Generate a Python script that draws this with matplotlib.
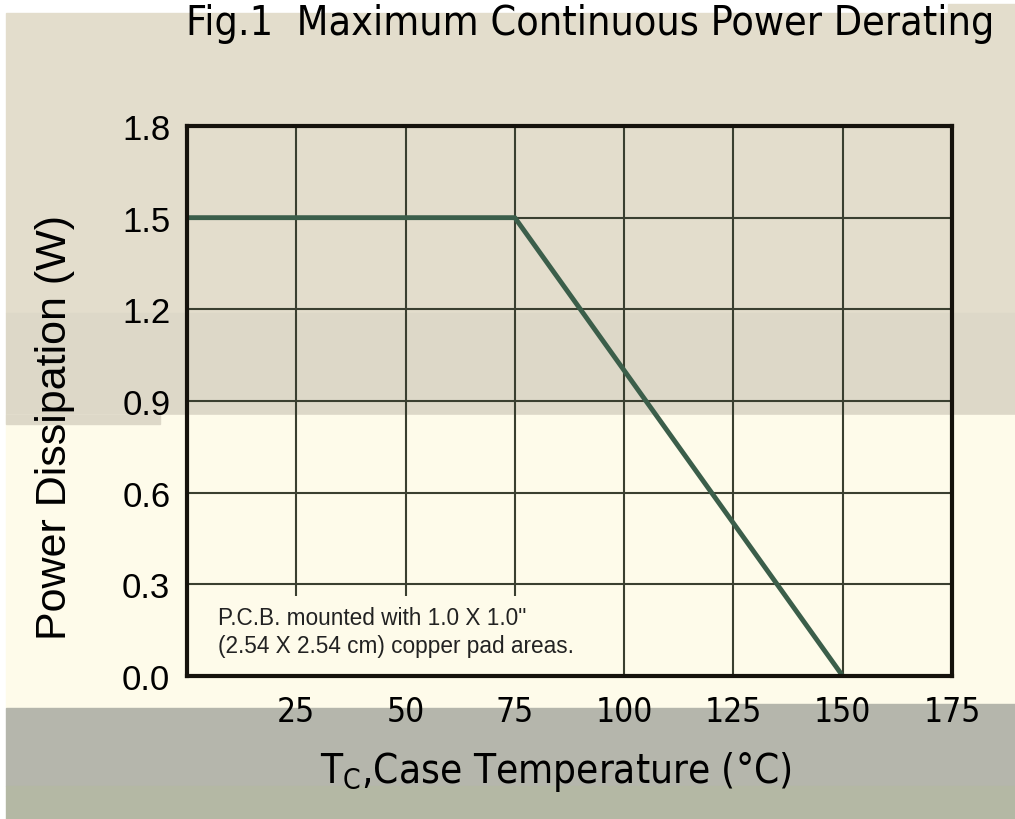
import matplotlib.pyplot as plt
from matplotlib.patches import Rectangle

# derating curve
temp = [0, 75, 150]
power = [1.5, 1.5, 0.0]

xticks = [25, 50, 75, 100, 125, 150, 175]
yticks = [0.0, 0.3, 0.6, 0.9, 1.2, 1.5, 1.8]

W, H = 1015, 820
fig = plt.figure(figsize=(W / 100, H / 100), dpi=100)
fig.patch.set_facecolor("white")

# background bands of the scanned page (x0, top, x1, bottom in pixels)
bands = [
    (6, 14, 1015, 314, "#E3DDCC"),
    (948, 5, 1015, 14, "#E3DDCC"),
    (6, 314, 1015, 416, "#DDD8C8"),
    (6, 416, 1015, 709, "#FEFBEA"),
    (6, 416, 160, 425, "#DDD8C8"),
    (6, 709, 1015, 787, "#B5B6AC"),
    (738, 705, 1015, 709, "#B5B6AC"),
    (6, 787, 1015, 820, "#B4B8A4"),
]
for x0, top, x1, bot, col in bands:
    fig.patches.append(Rectangle((x0 / W, 1 - bot / H), (x1 - x0) / W, (bot - top) / H,
                                 transform=fig.transFigure, color=col, zorder=-5))

narrow = dict(family="DejaVu Sans", fontstretch="condensed")

ax = fig.add_axes([187 / W, 1 - 677 / H, (952 - 187) / W, (677 - 127) / H])
ax.set_zorder(2)
ax.patch.set_alpha(0)
ax.set_xlim(0, 175)
ax.set_ylim(0, 1.8)
ax.set_xticks(xticks)
ax.set_yticks(yticks)
ax.set_xticklabels([str(t) for t in xticks], fontsize=24, **narrow)
ax.set_yticklabels([f"{t:.1f}" for t in yticks], family="Liberation Sans", fontsize=25)
ax.grid(True, color="#3A3F30", linewidth=1.5)
ax.tick_params(length=0, pad=12)
ax.tick_params(axis="x", pad=14)
for s in ax.spines.values():
    s.set_linewidth(3)
    s.set_color("#15120C")

ax.plot(temp, power, color="#3B5E4A", linewidth=3.5, solid_capstyle="butt")

# note box hides the grid behind the text
ax.add_patch(Rectangle((0, 0), 0.54, 0.145, transform=ax.transAxes,
                       facecolor="#FEFBEA", edgecolor="none", zorder=1.8))
ax.text(0.0405, 0.0945, "P.C.B. mounted with 1.0 X 1.0\"", transform=ax.transAxes,
        fontsize=16.3, family="Liberation Sans", color="#222222", va="baseline", zorder=3)
ax.text(0.0405, 0.0436, "(2.54 X 2.54 cm) copper pad areas.", transform=ax.transAxes,
        fontsize=16.3, family="Liberation Sans", color="#222222", va="baseline", zorder=3)

ax.set_ylabel("Power Dissipation (W)", fontsize=31, family="Liberation Sans", va="center")
ax.yaxis.set_label_coords(-0.1725, 0.4545)
ax.set_xlabel("T$_\\mathregular{C}$,Case Temperature (°C)", fontsize=29, va="center",
              **narrow)
ax.xaxis.set_label_coords(0.482, -0.172)

fig.text(590 / W, 1 - 35 / H, "Fig.1  Maximum Continuous Power Derating",
         fontsize=29.5, ha="center", va="baseline", zorder=3, **narrow)

fig.savefig("out.png", dpi=100)
